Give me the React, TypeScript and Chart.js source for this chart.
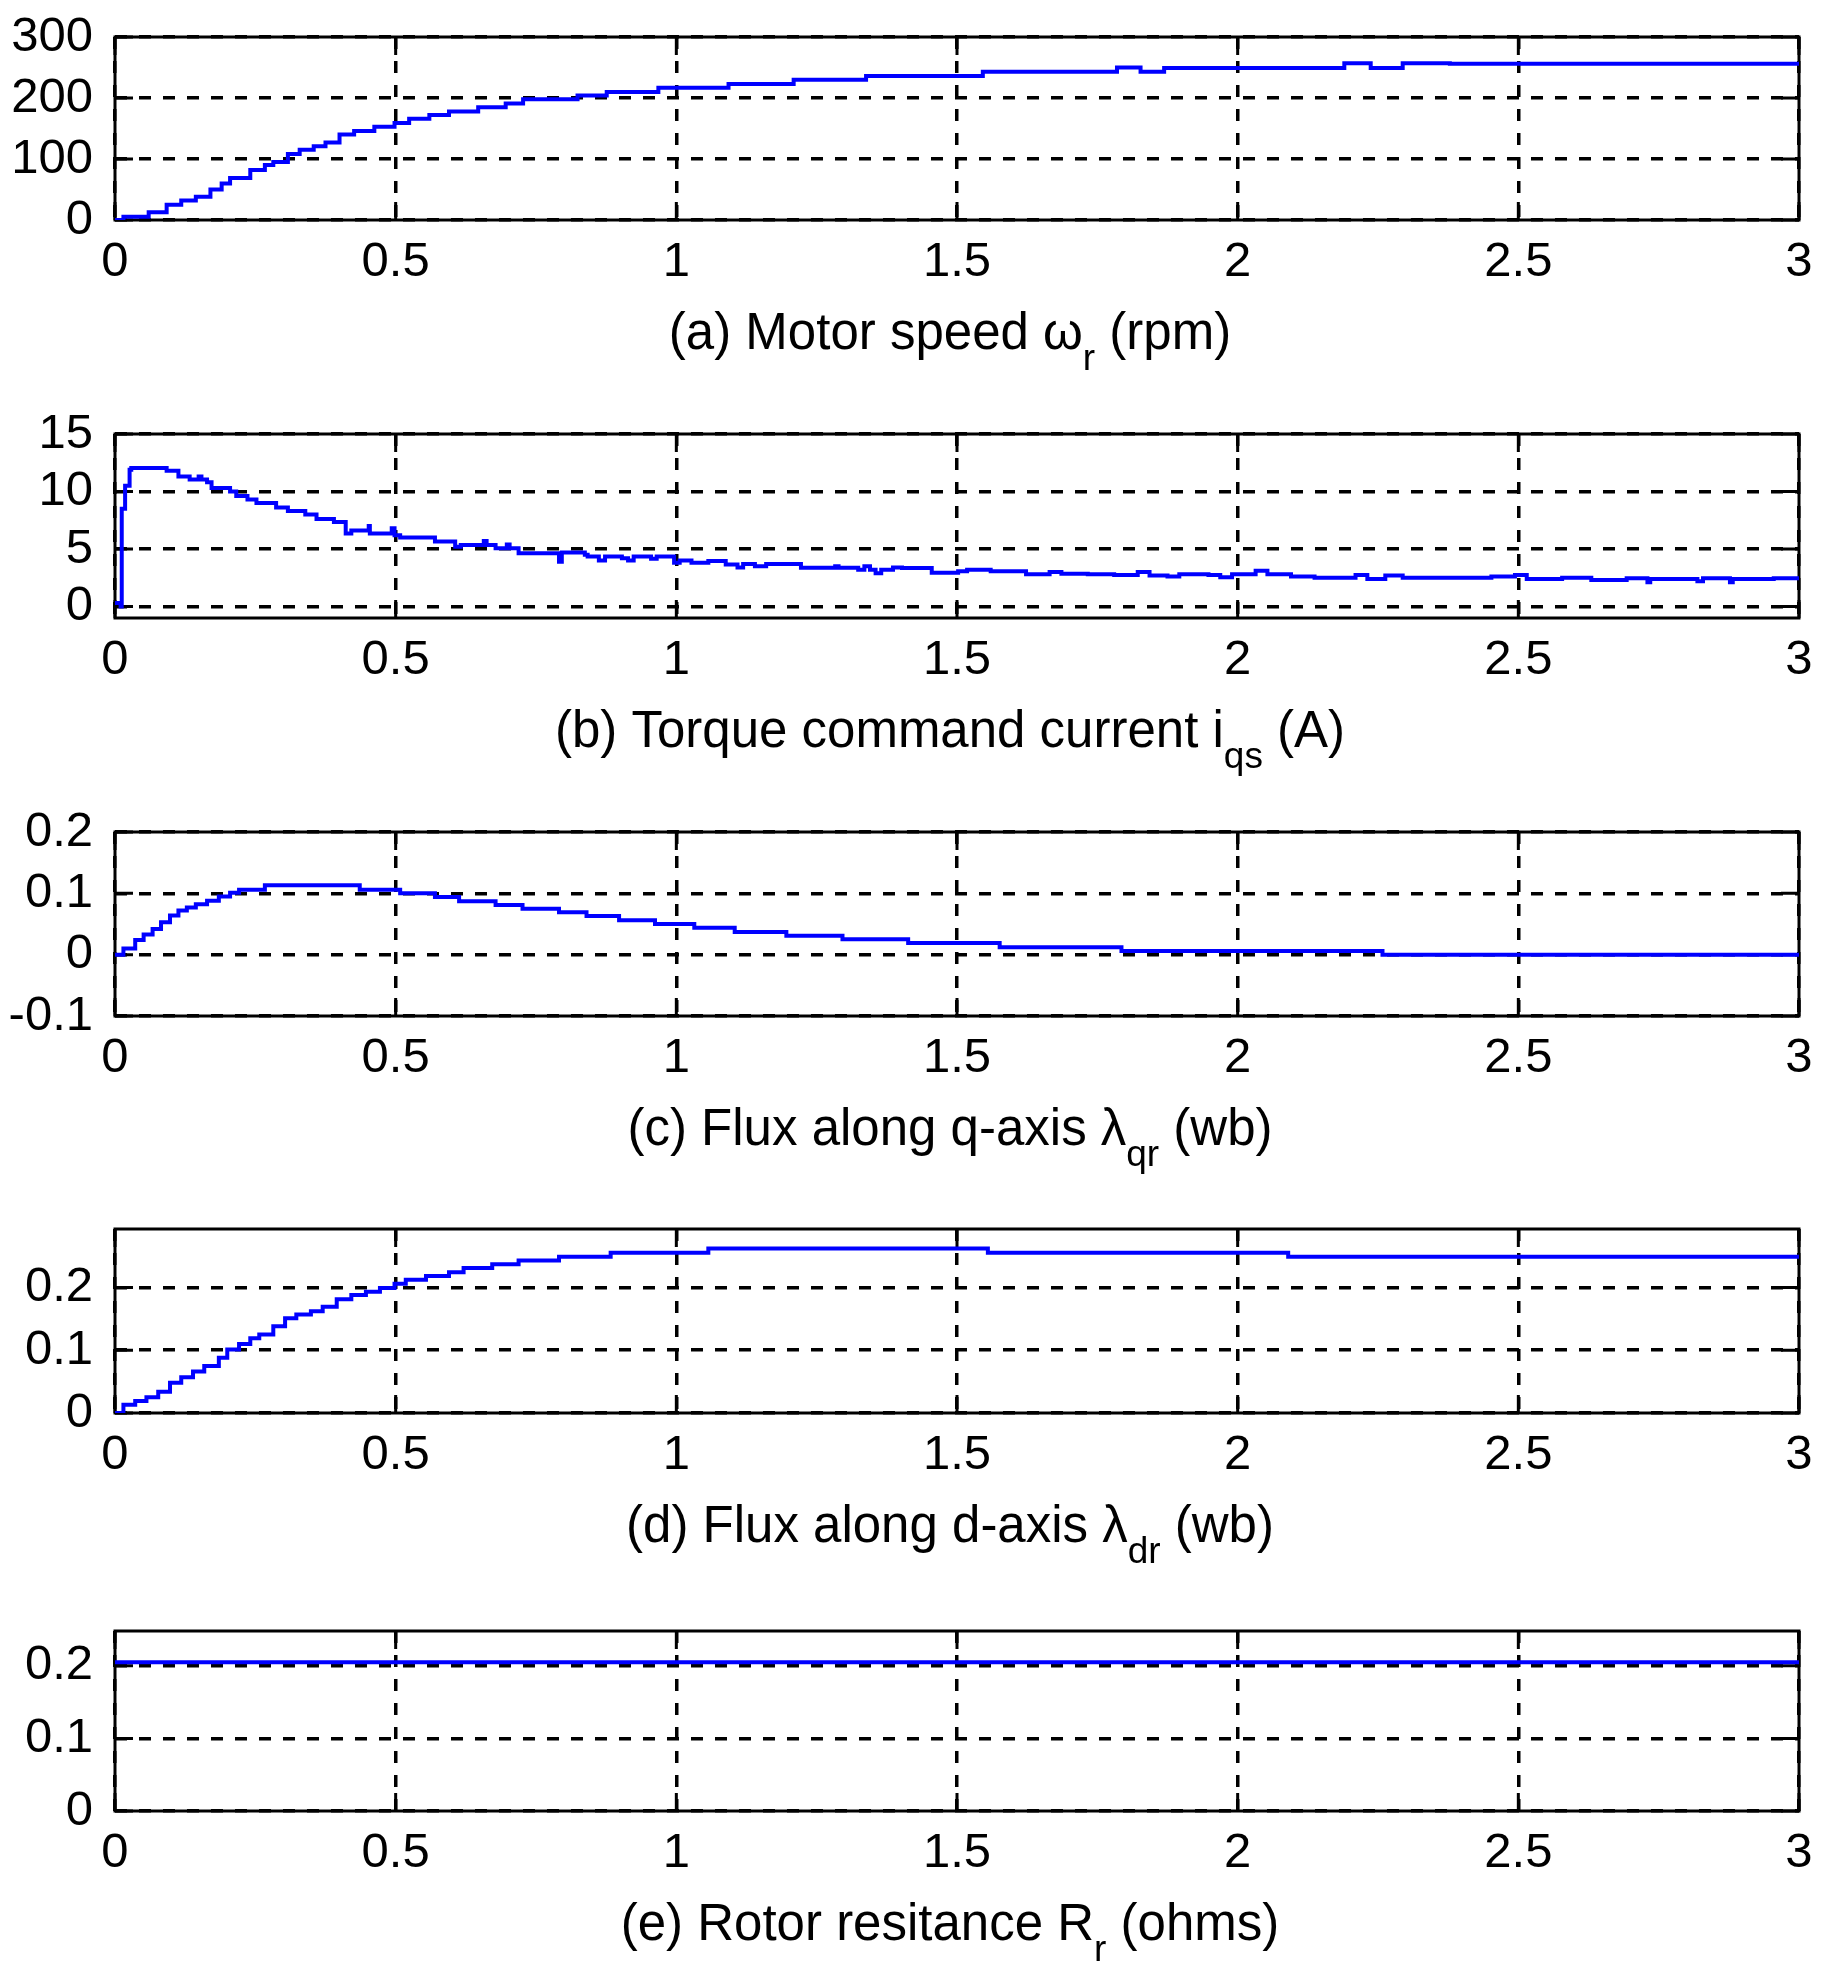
import { useEffect, useRef } from 'react'
import { Chart, registerables } from 'chart.js'

Chart.register(...registerables)
Chart.defaults.font.family = '"Liberation Sans", Arial, sans-serif'

// shared time axis
const xTicks = [0, 0.5, 1, 1.5, 2, 2.5, 3]
const xLabels = ['0', '0.5', '1', '1.5', '2', '2.5', '3']

// (a) motor speed (rpm)
const speedT = [0, 0.015, 0.06, 0.092, 0.118, 0.144, 0.17, 0.19, 0.205, 0.241, 0.267, 0.282, 0.308, 0.329, 0.354, 0.375, 0.4, 0.426, 0.462, 0.498, 0.524, 0.56, 0.595, 0.647, 0.696, 0.727, 0.824, 0.876, 0.968, 1.093, 1.209, 1.338, 1.546, 1.785, 1.827, 1.869, 2.19, 2.237, 2.294, 2.378, 3.0]
const speedV = [0, 5.5, 12.6, 25, 32, 38, 50, 60, 69, 82, 90, 95, 108, 115, 121, 127, 140, 146, 153, 159, 166, 172, 178, 185, 191, 198, 204, 210, 217, 223, 230, 236, 243, 250, 243, 249, 257, 249, 257, 256, 256]
const speedTicks = [0, 100, 200, 300]
const speedLabels = ['0', '100', '200', '300']

// (b) torque command current (A)
const iqsT = [0, 0.01, 0.012, 0.018, 0.026, 0.029, 0.092, 0.113, 0.133, 0.149, 0.154, 0.164, 0.172, 0.205, 0.216, 0.236, 0.252, 0.287, 0.308, 0.339, 0.359, 0.39, 0.411, 0.421, 0.452, 0.454, 0.493, 0.498, 0.508, 0.57, 0.606, 0.616, 0.657, 0.662, 0.678, 0.698, 0.703, 0.719, 0.791, 0.796, 0.837, 0.842, 0.862, 0.873, 0.903, 0.914, 0.924, 0.955, 0.965, 0.996, 1.006, 1.027, 1.057, 1.088, 1.109, 1.119, 1.14, 1.16, 1.222, 1.283, 1.289, 1.324, 1.335, 1.345, 1.355, 1.365, 1.386, 1.402, 1.455, 1.502, 1.518, 1.56, 1.623, 1.665, 1.686, 1.733, 1.78, 1.822, 1.843, 1.875, 1.896, 1.948, 1.969, 1.99, 2.032, 2.053, 2.095, 2.137, 2.21, 2.231, 2.263, 2.294, 2.452, 2.494, 2.515, 2.578, 2.63, 2.693, 2.73, 2.735, 2.819, 2.829, 2.877, 2.882, 2.955, 3.0]
const iqsV = [0.3, 0, 8.5, 10.5, 11.9, 12.05, 11.8, 11.3, 11.05, 11.3, 11.05, 10.8, 10.3, 10.0, 9.6, 9.3, 9.0, 8.6, 8.3, 8.0, 7.6, 7.35, 6.35, 6.6, 7.0, 6.35, 6.8, 6.2, 6.0, 5.65, 5.2, 5.35, 5.7, 5.35, 5.07, 5.4, 5.07, 4.64, 3.9, 4.7, 4.5, 4.35, 4.0, 4.35, 4.2, 4.0, 4.35, 4.15, 4.35, 3.8, 4.0, 3.8, 3.95, 3.65, 3.4, 3.7, 3.5, 3.7, 3.36, 3.5, 3.36, 3.2, 3.5, 3.2, 2.9, 3.2, 3.4, 3.35, 2.93, 3.07, 3.2, 3.07, 2.8, 3.0, 2.85, 2.8, 2.75, 3.0, 2.7, 2.6, 2.8, 2.75, 2.55, 2.8, 3.1, 2.8, 2.6, 2.5, 2.75, 2.4, 2.7, 2.5, 2.6, 2.75, 2.4, 2.5, 2.3, 2.45, 2.1, 2.4, 2.2, 2.45, 2.1, 2.4, 2.45, 2.45]
const iqsTicks = [0, 5, 10, 15]
const iqsLabels = ['0', '5', '10', '15']

// (c) flux along q-axis (wb)
const lqrT = [0, 0.015, 0.036, 0.051, 0.067, 0.082, 0.098, 0.113, 0.128, 0.144, 0.164, 0.185, 0.205, 0.221, 0.267, 0.436, 0.508, 0.57, 0.613, 0.678, 0.726, 0.791, 0.84, 0.898, 0.962, 1.032, 1.104, 1.196, 1.296, 1.413, 1.576, 1.793, 2.258, 3.0]
const lqrV = [0, 0.01, 0.024, 0.033, 0.042, 0.053, 0.064, 0.072, 0.077, 0.082, 0.088, 0.095, 0.101, 0.106, 0.113, 0.106, 0.1, 0.094, 0.087, 0.081, 0.075, 0.069, 0.063, 0.056, 0.05, 0.044, 0.037, 0.031, 0.025, 0.019, 0.012, 0.006, 0, 0]
const lqrTicks = [-0.1, 0, 0.1, 0.2]
const lqrLabels = ['-0.1', '0', '0.1', '0.2']

// (d) flux along d-axis (wb)
const ldrT = [0, 0.015, 0.036, 0.056, 0.077, 0.098, 0.118, 0.139, 0.159, 0.185, 0.2, 0.221, 0.241, 0.257, 0.282, 0.303, 0.323, 0.349, 0.37, 0.395, 0.421, 0.447, 0.472, 0.498, 0.518, 0.554, 0.595, 0.621, 0.672, 0.719, 0.791, 0.883, 1.057, 1.555, 2.09, 3.0]
const ldrV = [0, 0.013, 0.019, 0.025, 0.034, 0.048, 0.057, 0.066, 0.075, 0.088, 0.101, 0.11, 0.119, 0.125, 0.138, 0.151, 0.157, 0.162, 0.169, 0.181, 0.188, 0.193, 0.199, 0.206, 0.212, 0.218, 0.224, 0.231, 0.237, 0.243, 0.249, 0.255, 0.262, 0.255, 0.249, 0.249]
const ldrTicks = [0, 0.1, 0.2]
const ldrLabels = ['0', '0.1', '0.2']

// (e) rotor resistance (ohms)
const rrT = [0, 3.0]
const rrV = [0.205, 0.205]
const rrTicks = [0, 0.1, 0.2]
const rrLabels = ['0', '0.1', '0.2']

type Part = { text: string; sub?: boolean }

const titleA: Part[] = [{ text: '(a) Motor speed ω' }, { text: 'r', sub: true }, { text: ' (rpm)' }]
const titleB: Part[] = [{ text: '(b) Torque command current i' }, { text: 'qs', sub: true }, { text: ' (A)' }]
const titleC: Part[] = [{ text: '(c) Flux along q-axis λ' }, { text: 'qr', sub: true }, { text: ' (wb)' }]
const titleD: Part[] = [{ text: '(d) Flux along d-axis λ' }, { text: 'dr', sub: true }, { text: ' (wb)' }]
const titleE: Part[] = [{ text: '(e) Rotor resitance R' }, { text: 'r', sub: true }, { text: ' (ohms)' }]

const FONT = '"Liberation Sans", Arial, sans-serif'
const TOP_PAD = 37
const BOTTOM_H = 160

// box, inward ticks and the sub-scripted caption, MATLAB style
const matlabFrame = {
  id: 'matlabFrame',
  beforeDatasetsDraw(chart: any) {
    const { ctx, chartArea: a, scales } = chart
    ctx.save()
    ctx.setLineDash([])
    ctx.strokeStyle = '#000'
    ctx.lineWidth = 3
    ctx.strokeRect(a.left, a.top, a.right - a.left, a.bottom - a.top)
    ctx.beginPath()
    scales.x.ticks.forEach((t: any) => {
      const px = scales.x.getPixelForValue(t.value)
      ctx.moveTo(px, a.bottom)
      ctx.lineTo(px, a.bottom - 18)
      ctx.moveTo(px, a.top)
      ctx.lineTo(px, a.top + 18)
    })
    scales.y.ticks.forEach((t: any) => {
      const py = scales.y.getPixelForValue(t.value)
      ctx.moveTo(a.left, py)
      ctx.lineTo(a.left + 18, py)
      ctx.moveTo(a.right, py)
      ctx.lineTo(a.right - 18, py)
    })
    ctx.stroke()
    ctx.restore()
  },
  afterDraw(chart: any, _args: any, opts: any) {
    const parts: Part[] = opts.title || []
    const { ctx, chartArea: a } = chart
    ctx.save()
    ctx.fillStyle = '#000'
    ctx.textBaseline = 'alphabetic'
    ctx.textAlign = 'left'
    const fontOf = (p: Part) => (p.sub ? `37px ${FONT}` : `51px ${FONT}`)
    let total = 0
    parts.forEach((p) => {
      ctx.font = fontOf(p)
      total += ctx.measureText(p.text).width
    })
    let x = (a.left + a.right) / 2 - 7 - total / 2
    const base = a.bottom + 129
    parts.forEach((p) => {
      ctx.font = fontOf(p)
      ctx.fillText(p.text, x, p.sub ? base + 21 : base)
      x += ctx.measureText(p.text).width
    })
    ctx.restore()
  },
}

type PanelProps = {
  top: number
  plotH: number
  times: number[]
  values: number[]
  yMin: number
  yMax: number
  yTicks: number[]
  yLabels: string[]
  title: Part[]
}

function Panel({ top, plotH, times, values, yMin, yMax, yTicks, yLabels, title }: PanelProps) {
  const canvasRef = useRef<HTMLCanvasElement>(null)
  const height = TOP_PAD + plotH + BOTTOM_H

  useEffect(() => {
    if (!canvasRef.current) return
    const chart = new Chart(canvasRef.current, {
      type: 'line',
      data: {
        datasets: [
          {
            data: times.map((t, i) => ({ x: t, y: values[i] })),
            borderColor: '#0000ff',
            borderWidth: 4,
            pointRadius: 0,
            stepped: true,
            fill: false,
          },
        ],
      },
      plugins: [matlabFrame],
      options: {
        animation: false,
        responsive: false,
        devicePixelRatio: 1,
        layout: { padding: { top: TOP_PAD, right: 28, left: 0, bottom: 0 } },
        plugins: {
          legend: { display: false },
          tooltip: { enabled: false },
          matlabFrame: { title },
        } as any,
        scales: {
          x: {
            type: 'linear',
            min: 0,
            max: 3,
            afterBuildTicks: (s: any) => {
              s.ticks = xTicks.map((v) => ({ value: v }))
            },
            afterFit: (s: any) => {
              s.height = BOTTOM_H
              s.paddingLeft = 0
              s.paddingRight = 0
            },
            grid: { color: '#000', lineWidth: 3.5, drawTicks: false },
            border: { display: false, dash: [12, 12] },
            ticks: {
              color: '#000',
              padding: 13,
              font: { size: 49 },
              maxRotation: 0,
              autoSkip: false,
              callback: (_v: any, i: number) => xLabels[i],
            },
          },
          y: {
            type: 'linear',
            min: yMin,
            max: yMax,
            afterBuildTicks: (s: any) => {
              s.ticks = yTicks.map((v) => ({ value: v }))
            },
            afterFit: (s: any) => {
              s.width = 115
              s.paddingTop = 0
              s.paddingBottom = 0
            },
            grid: { color: '#000', lineWidth: 3.5, drawTicks: false },
            border: { display: false, dash: [12, 12] },
            ticks: {
              color: '#000',
              padding: 22,
              font: { size: 49 },
              autoSkip: false,
              callback: (_v: any, i: number) => yLabels[i],
            },
          },
        },
      },
    })
    return () => chart.destroy()
  }, [])

  return (
    <canvas
      ref={canvasRef}
      width={1827}
      height={height}
      style={{ position: 'absolute', left: 0, top: top - TOP_PAD, width: 1827, height }}
    />
  )
}

export default function App() {
  return (
    <div style={{ position: 'absolute', left: 0, top: 0, width: 1827, height: 1975, background: '#fff' }}>
      <Panel top={37} plotH={183} times={speedT} values={speedV} yMin={0} yMax={300} yTicks={speedTicks} yLabels={speedLabels} title={titleA} />
      <Panel top={434} plotH={184} times={iqsT} values={iqsV} yMin={-1} yMax={15} yTicks={iqsTicks} yLabels={iqsLabels} title={titleB} />
      <Panel top={832} plotH={184} times={lqrT} values={lqrV} yMin={-0.1} yMax={0.2} yTicks={lqrTicks} yLabels={lqrLabels} title={titleC} />
      <Panel top={1229} plotH={184} times={ldrT} values={ldrV} yMin={0} yMax={0.293} yTicks={ldrTicks} yLabels={ldrLabels} title={titleD} />
      <Panel top={1631} plotH={180} times={rrT} values={rrV} yMin={0} yMax={0.248} yTicks={rrTicks} yLabels={rrLabels} title={titleE} />
    </div>
  )
}
